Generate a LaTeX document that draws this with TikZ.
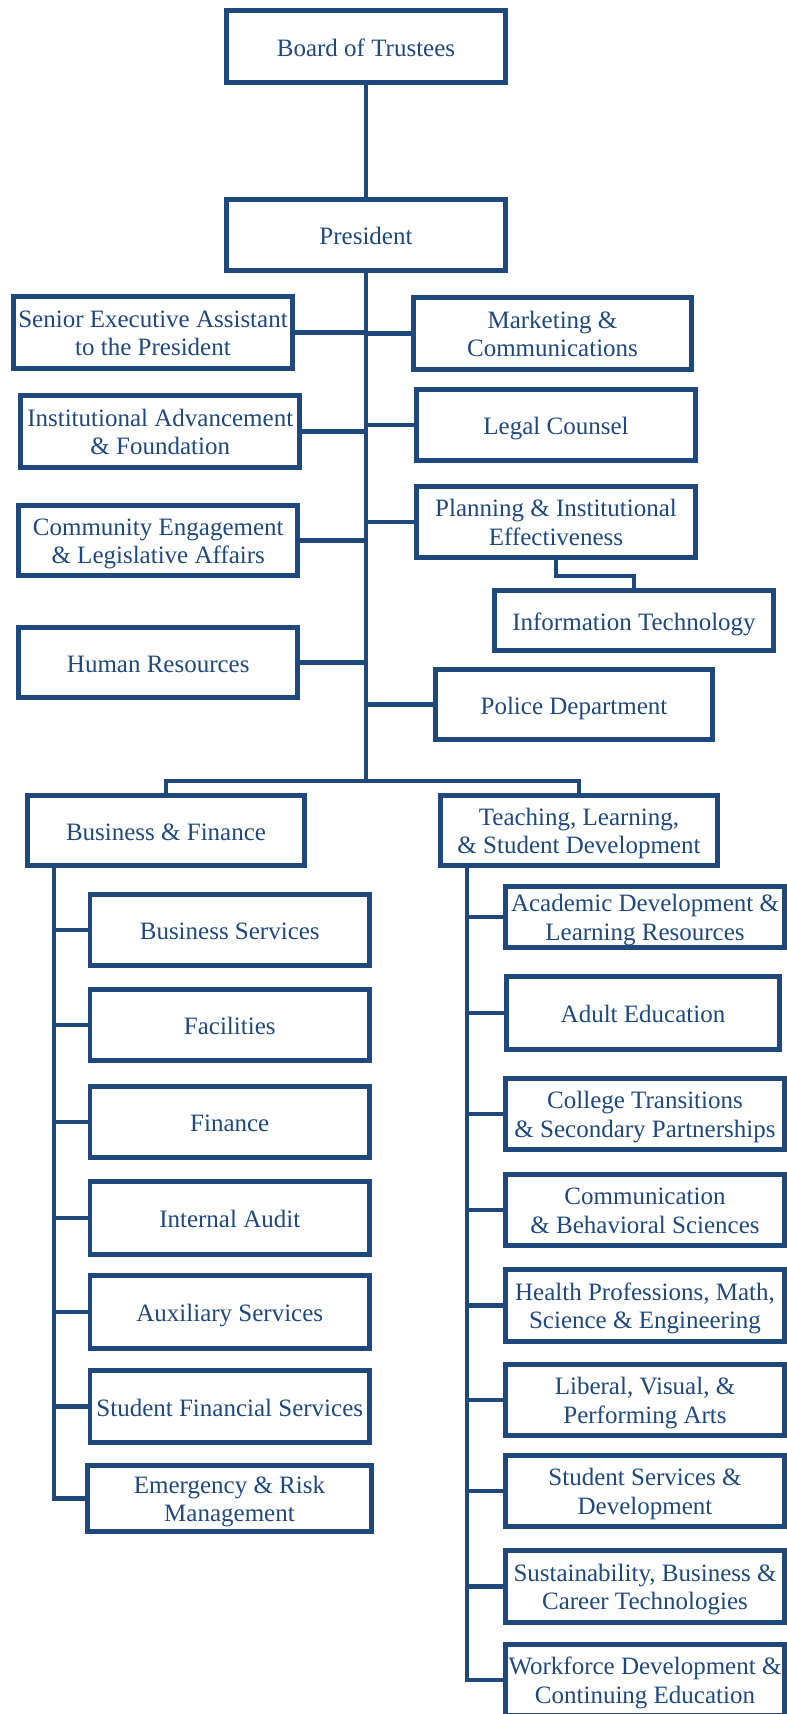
\documentclass[tikz,border=0pt]{standalone}
\usepackage{fontspec}
\setmainfont{Liberation Serif}
\definecolor{orgblue}{HTML}{1F497D}
% box labels: baselines placed relative to the box centre
\newcommand{\oneline}[1]{\raisebox{-9.5pt}[0pt][0pt]{#1}}
\newcommand{\twolines}[2]{\raisebox{5.2pt}[0pt][0pt]{\begin{tabular}[t]{@{}c@{}}#1\\#2\end{tabular}}}
\tikzset{
  box/.style={draw=orgblue, line width=4.6pt, fill=white, text=orgblue,
    inner sep=0pt, minimum width=279.5pt, minimum height=71.5pt,
    font=\fontsize{25}{28.5}\selectfont},
  link/.style={draw=orgblue, line width=4.6pt}
}
\begin{document}
\begin{tikzpicture}[x=1pt,y=-1pt]
\useasboundingbox (0,0) rectangle (787,1714);
\clip (0,0) rectangle (787,1714);

% top of the chart
\node[box, minimum height=72.5pt] (board) at (366,46.5) {\oneline{Board of Trustees}};
\node[box] (pres) at (366,235) {\oneline{President}};

% offices reporting directly to the president
\node[box, minimum height=72.5pt] (sea) at (153,332.5) {\twolines{Senior Executive Assistant}{to the President}};
\node[box, minimum width=278.5pt, minimum height=72.5pt] (mkt) at (552.5,333.5) {\twolines{Marketing \&}{Communications}};
\node[box, minimum width=279pt, minimum height=72.5pt] (ia) at (160.25,431.5) {\twolines{Institutional Advancement}{\& Foundation}};
\node[box] (legal) at (556,425) {\oneline{Legal Counsel}};
\node[box, minimum width=279pt, minimum height=70.5pt] (ce) at (158.25,540.5) {\twolines{Community Engagement}{\& Legislative Affairs}};
\node[box] (plan) at (556,522) {\twolines{Planning \& Institutional}{Effectiveness}};
\node[box, minimum height=60.5pt] (it) at (634,620.5) {\oneline{Information Technology}};
\node[box, minimum width=279pt, minimum height=70.5pt] (hr) at (158.25,662.5) {\oneline{Human Resources}};
\node[box, minimum width=277.5pt, minimum height=70.5pt] (police) at (574,704.5) {\oneline{Police Department}};

% divisions
\node[box, minimum width=277.5pt, minimum height=70.5pt] (bf) at (166,830.5) {\oneline{Business \& Finance}};
\node[box, minimum width=277.5pt, minimum height=70.5pt] (tlsd) at (579,830.5) {\twolines{Teaching, Learning,}{\& Student Development}};

% Business & Finance units
\begin{scope}[every node/.append style={minimum width=279pt}]
\node[box] (bs) at (229.75,930) {\oneline{Business Services}};
\node[box] (fac) at (229.75,1025) {\oneline{Facilities}};
\node[box] (fin) at (229.75,1122) {\oneline{Finance}};
\node[box, minimum height=73.5pt] (audit) at (229.75,1218) {\oneline{Internal Audit}};
\node[box, minimum height=73.5pt] (aux) at (229.75,1312) {\oneline{Auxiliary Services}};
\node[box, minimum height=72.5pt] (sfs) at (229.75,1406.5) {\oneline{Student Financial Services}};
\end{scope}
\node[box, minimum width=284.5pt, minimum height=66.5pt] (erm) at (229.5,1498.5) {\twolines{Emergency \& Risk}{Management}};

% Teaching, Learning & Student Development units
\begin{scope}[every node/.append style={minimum width=277.5pt}]
\node[box, minimum height=61.5pt] (acad) at (645,917) {\twolines{Academic Development \&}{Learning Resources}};
\node[box, minimum width=273.5pt, minimum height=73.5pt] (adult) at (643,1013) {\oneline{Adult Education}};
\node[box] (ct) at (645,1114) {\twolines{College Transitions}{\& Secondary Partnerships}};
\node[box] (comm) at (645,1210) {\twolines{Communication}{\& Behavioral Sciences}};
\node[box, minimum height=72.5pt] (health) at (645,1305.5) {\twolines{Health Professions, Math,}{Science \& Engineering}};
\node[box] (lib) at (645,1400) {\twolines{Liberal, Visual, \&}{Performing Arts}};
\node[box] (ss) at (645,1491) {\twolines{Student Services \&}{Development}};
\node[box, minimum height=72.5pt] (sust) at (645,1586.5) {\twolines{Sustainability, Business \&}{Career Technologies}};
\node[box] (wf) at (645,1680) {\twolines{Workforce Development \&}{Continuing Education}};
\end{scope}

% junction points of the connector lines
\coordinate (busmid) at (366,781);
\coordinate (itbend) at (556,576);
\coordinate (bfspine) at (54,868);
\coordinate (tlspine) at (467,868);

% main trunk and division bus
\draw[link] (board.south) -- (pres.north);
\draw[link] (pres.south) -- (busmid);
\draw[link] (bf.north) |- (busmid) -| (tlsd.north);

% branches off the trunk
\foreach \n in {sea,ia,ce,hr}
  \draw[link] (\n.east) -- (\n.east -| busmid);
\foreach \n in {mkt,legal,plan,police}
  \draw[link] (\n.west) -- (\n.west -| busmid);
\draw[link] (plan.south) -- (itbend) -| (it.north);

% Business & Finance spine
\draw[link] (bfspine) |- (erm.west);
\foreach \n in {bs,fac,fin,audit,aux,sfs}
  \draw[link] (\n.west) -- (\n.west -| bfspine);

% Teaching, Learning & Student Development spine
\draw[link] (tlspine) |- (wf.west);
\foreach \n in {acad,adult,ct,comm,health,lib,ss,sust}
  \draw[link] (\n.west) -- (\n.west -| tlspine);
\end{tikzpicture}
\end{document}
